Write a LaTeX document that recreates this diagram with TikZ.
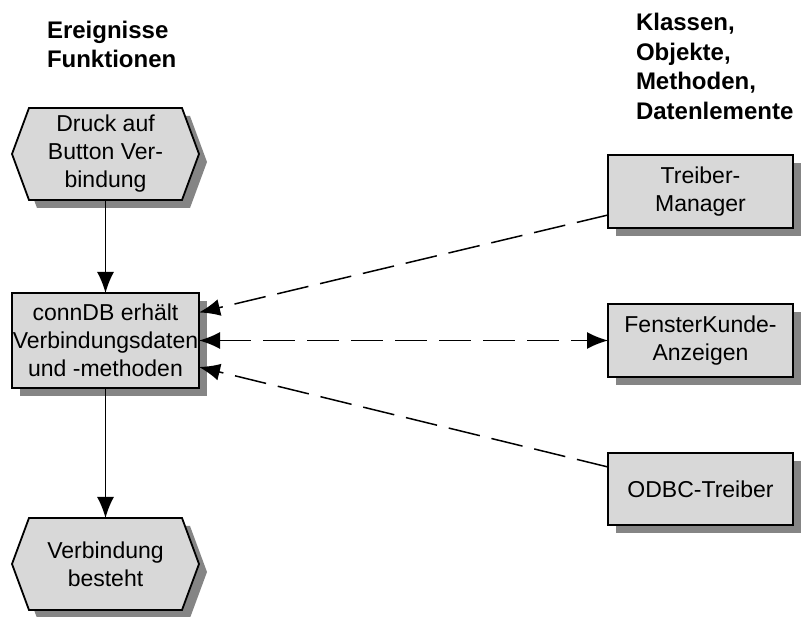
\documentclass[tikz,border=0pt]{standalone}
\usepackage{fontspec}
\setmainfont{Liberation Sans}
\usetikzlibrary{arrows.meta,backgrounds}
\definecolor{boxgray}{HTML}{D8D8D8}
\definecolor{shadowc}{HTML}{858585}
\newcommand\hexnode[1]{%
  \fill[shadowc, transform canvas={shift={(8pt,-8pt)}}]
    ([xshift=17pt]#1.north west) -- ([xshift=-17pt]#1.north east) -- (#1.east) --
    ([xshift=-17pt]#1.south east) -- ([xshift=17pt]#1.south west) -- (#1.west) -- cycle;
  \filldraw[fill=boxgray, draw=black, line width=1.8pt, line join=miter]
    ([xshift=17pt]#1.north west) -- ([xshift=-17pt]#1.north east) -- (#1.east) --
    ([xshift=-17pt]#1.south east) -- ([xshift=17pt]#1.south west) -- (#1.west) -- cycle;}
\newcommand\boxshadow[1]{%
  \fill[shadowc, transform canvas={shift={(8pt,-8pt)}}] (#1.south west) rectangle (#1.north east);}
\begin{document}
\begin{tikzpicture}[x=1pt,y=-1pt,
  every node/.style={font=\fontsize{23}{28}\selectfont, inner sep=0pt, outer sep=0pt},
  hexstyle/.style={rectangle, draw=none, minimum width=187pt, minimum height=92pt, align=center},
  boxstyle/.style={rectangle, draw=black, line width=1.8pt, fill=boxgray, minimum width=185pt, minimum height=73pt, align=center},
  header/.style={font=\fontsize{24}{29.5}\selectfont\bfseries, align=left, anchor=north west},
  solidarrow/.style={line width=1.7pt, -{Latex[length=21pt,width=17pt]}},
  dasharrow/.style={line width=1.5pt, dash pattern=on 32pt off 12pt, -{Latex[length=21pt,width=17pt]}},
  dualarrow/.style={line width=1.5pt, dash pattern=on 32pt off 12pt, {Latex[length=21pt,width=17pt]}-{Latex[length=21pt,width=17pt]}}
]
\useasboundingbox (0,0) rectangle (804,617);

% headers
\node[header] (h1) at (47,21) {Ereignisse\\Funktionen};
\node[header] (h2) at (636,13.5) {Klassen,\\Objekte,\\Methoden,\\Datenlemente};

% event / function column
\node[hexstyle] (ev1) at (105.5,154) {Druck auf\\Button Ver-\\bindung};
\node[boxstyle, minimum width=187pt, minimum height=95pt] (fn) at (105.5,340.5) {connDB erhält\\Verbindungsdaten\\und -methoden};
\node[hexstyle] (ev2) at (105.5,564) {Verbindung\\besteht};

% classes column
\node[boxstyle] (tm) at (700.5,191.5) {Treiber-\\Manager};
\node[boxstyle] (fk) at (700.5,340.5) {FensterKunde-\\Anzeigen};
\node[boxstyle, minimum height=72pt] (od) at (700.5,489) {ODBC-Treiber};

\begin{scope}[on background layer]
  \fill[white] (0,0) rectangle (804,617);
  \hexnode{ev1}
  \hexnode{ev2}
  \boxshadow{fn}
  \boxshadow{tm}
  \boxshadow{fk}
  \boxshadow{od}
\end{scope}

% connector end points
\coordinate (tmout) at ([yshift=-23.5pt]tm.west);
\coordinate (odout) at ([yshift=22pt]od.west);
\coordinate (fnin1) at ([yshift=28pt]fn.east);
\coordinate (fnin3) at ([yshift=-26.5pt]fn.east);

\draw[solidarrow] (ev1.south) -- (fn.north);
\draw[solidarrow] (fn.south) -- (ev2.north);
\draw[dasharrow] (tmout) -- (fnin1);
\draw[dualarrow] (fn.east) -- (fk.west);
\draw[dasharrow] (odout) -- (fnin3);
\end{tikzpicture}
\end{document}
